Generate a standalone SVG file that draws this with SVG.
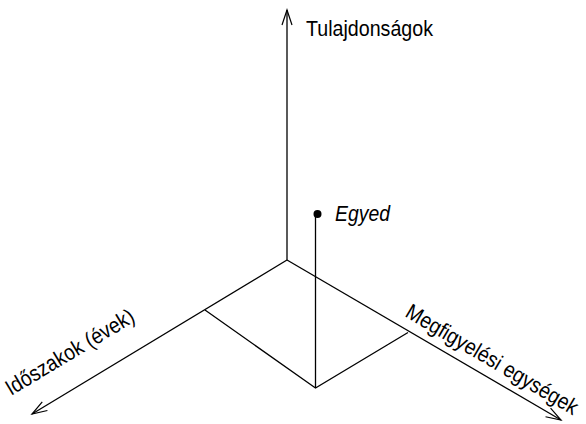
<svg xmlns="http://www.w3.org/2000/svg" width="586" height="424" viewBox="0 0 586 424">
<defs>
<marker id="arr" viewBox="-16 -7 18 14" markerWidth="18" markerHeight="14" refX="0" refY="0" orient="auto" markerUnits="userSpaceOnUse">
<path d="M-15,-5 L0,0 L-15,5" fill="none" stroke="#000" stroke-width="1.2"/>
</marker>
<style>
.ln{stroke:#000;stroke-width:1.3;fill:none}
.t{font-family:"Liberation Sans",Arial,sans-serif;font-size:22px;fill:#000}
</style>
</defs>
<rect width="586" height="424" fill="#fff"/>
<g id="connectors">
<line class="ln" x1="287" y1="260" x2="287" y2="10" marker-end="url(#arr)"/>
<line class="ln" x1="287" y1="260" x2="32" y2="414" marker-end="url(#arr)"/>
<line class="ln" x1="287" y1="260" x2="561" y2="420" marker-end="url(#arr)"/>
<polyline class="ln" points="205,310 315.5,388 408,332.5"/>
<line class="ln" x1="315.5" y1="214" x2="315.5" y2="388"/>
</g>
<g id="egyed">
<circle cx="317.5" cy="214" r="4" fill="#000"/>
<text class="t" x="335" y="221" font-style="italic" textLength="55" lengthAdjust="spacingAndGlyphs">Egyed</text>
</g>
<g id="tulajdonsagok">
<text class="t" x="306" y="36" textLength="127" lengthAdjust="spacingAndGlyphs">Tulajdonságok</text>
</g>
<g id="idoszakok">
<text class="t" transform="translate(11,396) rotate(-31)" textLength="146" lengthAdjust="spacingAndGlyphs">Időszakok (évek)</text>
</g>
<g id="megfigyelesi">
<text class="t" transform="translate(404,316) rotate(30.5)" textLength="196" lengthAdjust="spacingAndGlyphs">Megfigyelési egységek</text>
</g>
</svg>
